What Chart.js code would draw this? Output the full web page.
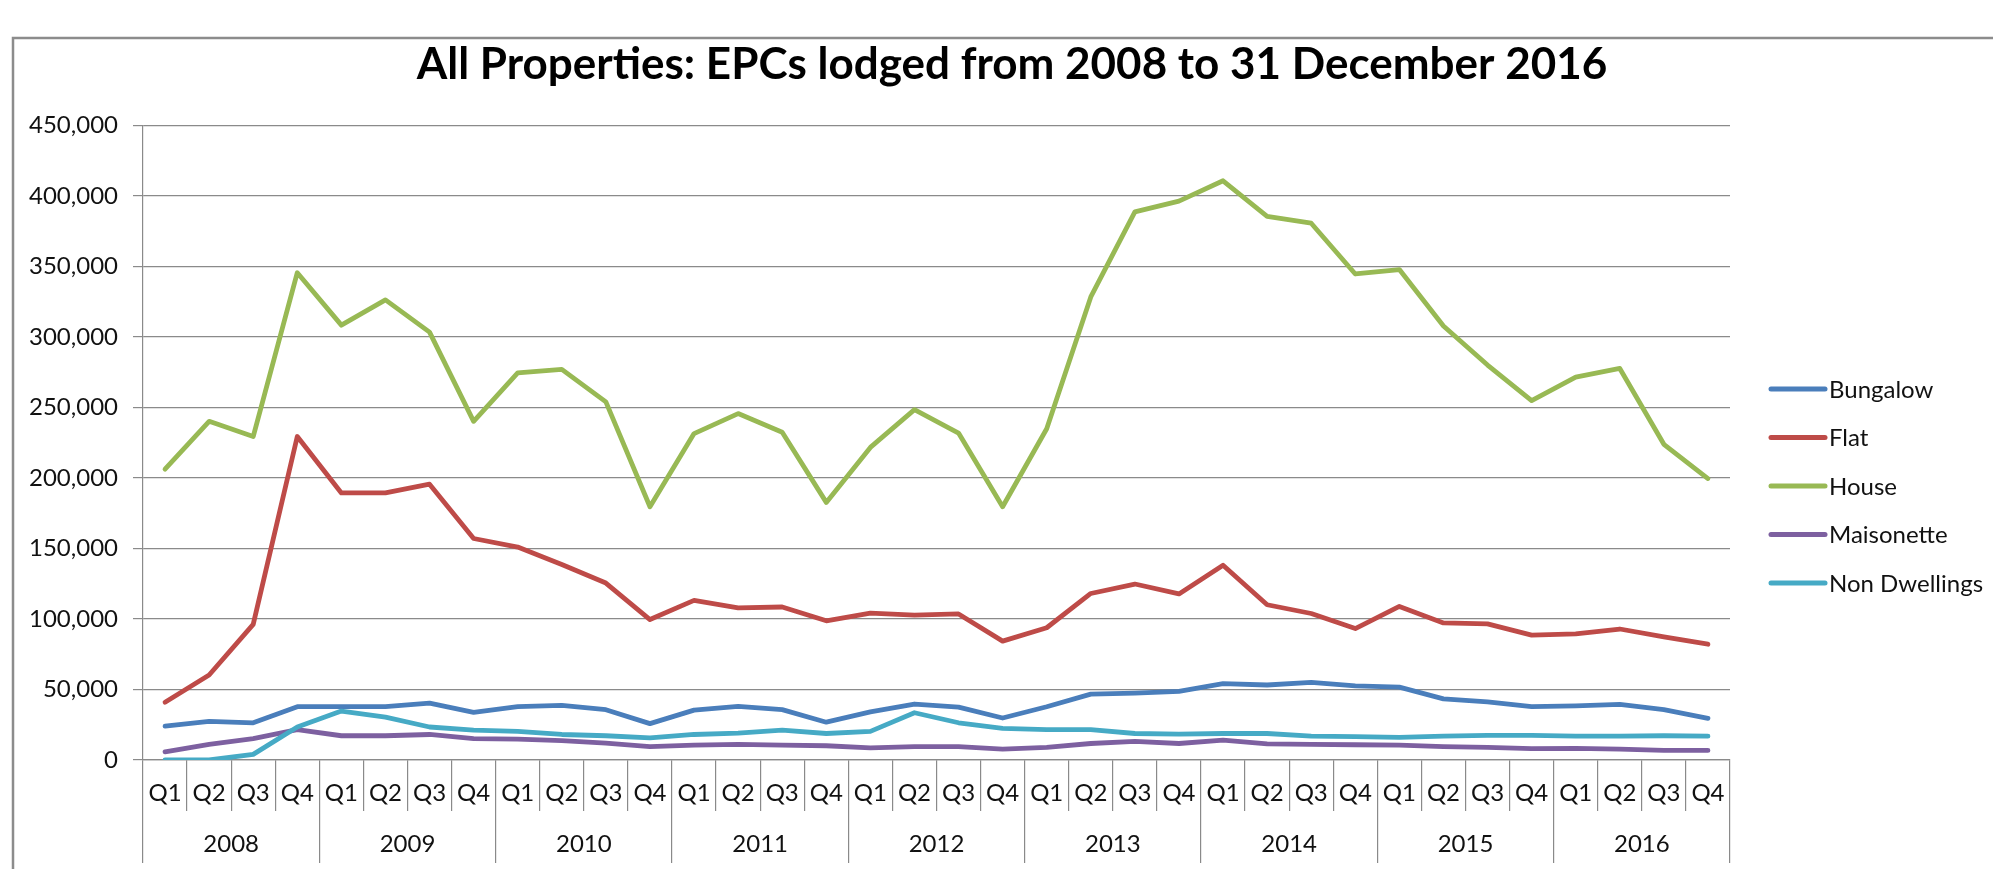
<!DOCTYPE html>
<html>
<head>
<meta charset="utf-8">
<title>All Properties: EPCs lodged from 2008 to 31 December 2016</title>
<script src="https://cdn.jsdelivr.net/npm/chart.js@4.4.1/dist/chart.umd.min.js"></script>
<style>
  html, body { margin: 0; padding: 0; background: #fff; }
  #wrap { width: 1993px; height: 869px; }
</style>
</head>
<body>
<div id="wrap"><canvas id="epc-chart" width="1993" height="869"></canvas></div>
<script>
// quarters and years on the category axis
const quarters = [
  "Q1", "Q2", "Q3", "Q4", "Q1", "Q2", "Q3", "Q4", "Q1", "Q2", "Q3", "Q4",
  "Q1", "Q2", "Q3", "Q4", "Q1", "Q2", "Q3", "Q4", "Q1", "Q2", "Q3", "Q4",
  "Q1", "Q2", "Q3", "Q4", "Q1", "Q2", "Q3", "Q4", "Q1", "Q2", "Q3", "Q4"
];
const years = ["2008", "2009", "2010", "2011", "2012", "2013", "2014", "2015", "2016"];

// EPCs lodged per quarter
const bungalow = [
  24000, 27400, 26400, 37800, 37800, 37800, 40300, 33800, 37800, 38700, 35700, 25800,
  35400, 38100, 35700, 26800, 34100, 39700, 37500, 29800, 37800, 46700, 47400, 48600,
  54100, 53200, 55000, 52600, 51700, 43400, 41200, 37800, 38400, 39400, 35700, 29500
];
const flat = [
  40900, 60300, 96200, 229400, 189400, 189400, 195600, 157100, 151000, 138700, 125500, 99600,
  113200, 107900, 108500, 98700, 104200, 102700, 103600, 84300, 93800, 118100, 124800, 117800,
  138100, 110100, 103900, 93200, 108900, 97200, 96500, 88600, 89500, 92900, 87300, 82100
];
const house = [
  206300, 240200, 229400, 345600, 308400, 326300, 303500, 240200, 274600, 277000, 254000, 179600,
  231500, 245700, 232500, 182700, 221700, 248500, 231900, 179600, 234900, 328400, 388700, 396400,
  410800, 385600, 380700, 344700, 347800, 307800, 280100, 254900, 271500, 277700, 223900, 199600
];
const maisonette = [
  5800, 11100, 15100, 21500, 17200, 17200, 18100, 15100, 14800, 13800, 12000, 9500,
  10600, 11100, 10500, 10100, 8600, 9500, 9500, 7700, 8900, 11700, 13200, 11700,
  14100, 11400, 11100, 10800, 10500, 9500, 8900, 8000, 8300, 7700, 6800, 6800
];
const nonDwellings = [
  0, 0, 4000, 23400, 34700, 30400, 23400, 21200, 20300, 18100, 17200, 15700,
  18100, 19100, 21200, 18800, 20300, 33500, 26400, 22400, 21500, 21500, 18800, 18400,
  18800, 18800, 16900, 16600, 16000, 16900, 17500, 17500, 16900, 16900, 17200, 16900
];

const seriesNames = ["Bungalow", "Flat", "House", "Maisonette", "Non Dwellings"];
const seriesColors = ["#4a7ebb", "#be4b48", "#98b954", "#7d60a0", "#46aac5"];
const seriesData = [bungalow, flat, house, maisonette, nonDwellings];

const FONT = "Lato, 'Open Sans', sans-serif";
const GRID = "#8a8a8a";
const TEXT = "#111";

// frame, title and legend drawn round the chart
const decorPlugin = {
  id: "decor",
  beforeDraw(chart) {
    const ctx = chart.ctx;
    ctx.save();
    ctx.fillStyle = "#fff";
    ctx.fillRect(0, 0, chart.width, chart.height);
    ctx.restore();
  },
  afterDraw(chart) {
    const ctx = chart.ctx;
    ctx.save();

    // outer frame (only top and left visible)
    ctx.strokeStyle = "#8c8c8c";
    ctx.lineWidth = 2.5;
    ctx.beginPath();
    ctx.moveTo(13, chart.height);
    ctx.lineTo(13, 38);
    ctx.lineTo(chart.width, 38);
    ctx.stroke();

    // title
    ctx.fillStyle = "#000";
    ctx.font = "bold 44px " + FONT;
    ctx.textAlign = "center";
    ctx.textBaseline = "alphabetic";
    ctx.fillText("All Properties: EPCs lodged from 2008 to 31 December 2016", 1012, 79);

    // legend
    ctx.font = "24px " + FONT;
    ctx.textAlign = "left";
    ctx.textBaseline = "middle";
    chart.data.datasets.forEach((ds, i) => {
      const y = 389 + i * 48.5;
      ctx.strokeStyle = ds.borderColor;
      ctx.lineWidth = 5;
      ctx.lineCap = "round";
      ctx.beginPath();
      ctx.moveTo(1771, y);
      ctx.lineTo(1825, y);
      ctx.stroke();
      ctx.fillStyle = TEXT;
      ctx.fillText(ds.label, 1829, y + 1);
    });
    ctx.restore();
  }
};

const ctx = document.getElementById("epc-chart").getContext("2d");
const epcChart = new Chart(ctx, {
  type: "line",
  data: {
    labels: quarters,
    datasets: seriesNames.map((name, i) => ({
      label: name,
      data: seriesData[i],
      borderColor: seriesColors[i],
      backgroundColor: seriesColors[i],
      borderWidth: 4.8,
      borderJoinStyle: "round",
      borderCapStyle: "round",
      pointRadius: 0,
      tension: 0,
      fill: false,
      order: seriesNames.length - i
    }))
  },
  options: {
    responsive: false,
    animation: false,
    layout: { padding: { left: 0, right: 263, top: 125.5, bottom: 0 } },
    plugins: {
      legend: { display: false },
      title: { display: false },
      tooltip: { enabled: false }
    },
    scales: {
      x: {
        type: "category",
        offset: true,
        grid: {
          offset: true,
          drawOnChartArea: false,
          tickLength: 51,
          color: GRID,
          lineWidth: 1.2
        },
        border: { display: true, color: GRID, width: 1.2 },
        ticks: {
          autoSkip: false,
          maxRotation: 0,
          padding: -32,
          color: TEXT,
          font: { family: FONT, size: 24 }
        },
        afterFit(scale) { scale.height = 51; }
      },
      x2: {
        type: "category",
        position: "bottom",
        labels: years,
        offset: true,
        grid: {
          offset: true,
          drawOnChartArea: false,
          tickLength: 52,
          color: GRID,
          lineWidth: 1.2
        },
        border: { display: false },
        ticks: {
          autoSkip: false,
          maxRotation: 0,
          padding: -33,
          color: TEXT,
          font: { family: FONT, size: 24 }
        },
        afterFit(scale) { scale.height = 58; }
      },
      y: {
        min: 0,
        max: 450000,
        grid: {
          color: GRID,
          lineWidth: 1.2,
          tickLength: 10
        },
        border: { display: true, color: GRID, width: 1.2 },
        ticks: {
          stepSize: 50000,
          padding: 15,
          color: TEXT,
          font: { family: FONT, size: 24 },
          callback: (v) => v.toLocaleString("en-US")
        },
        afterFit(scale) { scale.width = 143; }
      }
    }
  },
  plugins: [decorPlugin]
});
</script>
</body>
</html>
